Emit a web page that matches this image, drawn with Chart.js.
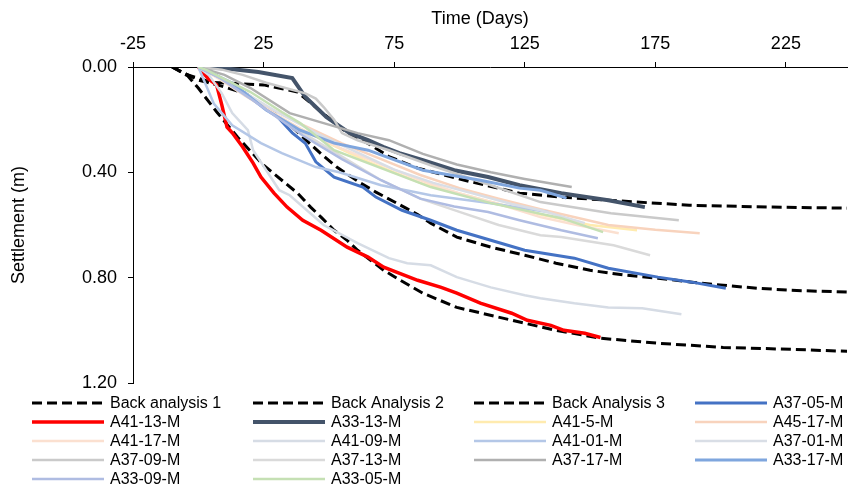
<!DOCTYPE html>
<html>
<head>
<meta charset="utf-8">
<script src="https://cdn.jsdelivr.net/npm/chart.js@4.4.1/dist/chart.umd.min.js"></script>
<style>
  html, body { margin: 0; padding: 0; background: #fff; }
</style>
</head>
<body>
<canvas id="settlementChart" width="848" height="488"></canvas>
<script>
// Axis ticks
const xTicks = [-25, 25, 75, 125, 175, 225];
const yTicks = [0, 0.4, 0.8, 1.2];

// Back analysis curves (days, settlement m)
const ba1Days = [-10, -4, 5, 15, 25, 38, 47, 57, 65, 73, 84, 104, 123, 140, 157, 188, 219, 249];
const ba1Settle = [0, 0.03, 0.058, 0.063, 0.068, 0.095, 0.17, 0.25, 0.29, 0.34, 0.384, 0.435, 0.479, 0.495, 0.506, 0.525, 0.532, 0.536];
const ba2Days = [-10, -4, 0, 8, 18, 29, 36, 41, 47, 53, 62, 68, 76, 84, 89, 99, 112, 125, 137, 150, 163, 176, 189, 201, 214, 227, 249];
const ba2Settle = [0, 0.03, 0.05, 0.07, 0.1, 0.175, 0.228, 0.275, 0.33, 0.38, 0.44, 0.475, 0.517, 0.56, 0.593, 0.646, 0.684, 0.715, 0.745, 0.772, 0.79, 0.802, 0.817, 0.829, 0.84, 0.848, 0.855];
const ba3Days = [-10, -4, 0, 7, 15, 25, 38, 43, 47, 52, 57, 61, 66, 71, 76, 86, 99, 125, 137, 154, 176, 201, 227, 249];
const ba3Settle = [0, 0.034, 0.08, 0.17, 0.266, 0.373, 0.479, 0.532, 0.57, 0.62, 0.658, 0.696, 0.734, 0.772, 0.802, 0.859, 0.913, 0.973, 1.0, 1.03, 1.049, 1.065, 1.072, 1.08];

// Measured plates
const a3705Days = [0, 5, 12, 18, 23, 29, 36, 41, 45, 52, 63, 68, 78, 89, 99, 112, 125, 144, 157, 176, 189, 202];
const a3705Settle = [0, 0.02, 0.065, 0.1, 0.137, 0.175, 0.25, 0.29, 0.36, 0.418, 0.456, 0.494, 0.544, 0.582, 0.62, 0.658, 0.696, 0.726, 0.764, 0.798, 0.817, 0.84];
const a4113Days = [0, 4, 7, 9, 11, 13, 17, 21, 24, 29, 34, 40, 47, 57, 65, 71, 84, 93, 99, 108, 120, 126, 135, 140, 148, 154];
const a4113Settle = [0, 0.046, 0.068, 0.144, 0.228, 0.25, 0.304, 0.365, 0.418, 0.479, 0.532, 0.582, 0.62, 0.684, 0.722, 0.76, 0.81, 0.837, 0.859, 0.897, 0.935, 0.962, 0.981, 1.0, 1.011, 1.027];
const a3313Days = [0, 9, 23, 36, 41, 49, 58, 65, 71, 77, 86, 98, 111, 123, 139, 144, 157, 171];
const a3313Settle = [0, 0.004, 0.019, 0.042, 0.114, 0.19, 0.251, 0.278, 0.304, 0.327, 0.354, 0.392, 0.418, 0.449, 0.479, 0.487, 0.506, 0.532];
const a4105Days = [0, 6, 13, 25, 35, 50, 65, 85, 100, 115, 131, 150, 168];
const a4105Settle = [0, 0.03, 0.076, 0.152, 0.213, 0.29, 0.36, 0.44, 0.48, 0.52, 0.56, 0.6, 0.62];
const a4517Days = [0, 8, 18, 28, 40, 55, 70, 85, 100, 115, 131, 157, 175, 192];
const a4517Settle = [0, 0.04, 0.1, 0.16, 0.22, 0.29, 0.35, 0.41, 0.46, 0.5, 0.54, 0.6, 0.618, 0.631];
const a4117Days = [0, 8, 18, 28, 40, 55, 70, 85, 100, 115, 131, 145, 161];
const a4117Settle = [0, 0.045, 0.11, 0.17, 0.24, 0.31, 0.37, 0.43, 0.48, 0.52, 0.57, 0.6, 0.631];
const a4109Days = [0, 4, 9, 13, 19, 21, 31, 35, 48, 61, 73, 80, 89, 99, 112, 125, 131, 144, 157, 170, 185];
const a4109Settle = [0, 0.03, 0.1, 0.175, 0.24, 0.316, 0.468, 0.487, 0.6, 0.669, 0.726, 0.745, 0.753, 0.798, 0.837, 0.867, 0.878, 0.897, 0.913, 0.916, 0.939];
const a4101Days = [0, 3, 6, 13, 24, 32, 45, 54, 70, 89, 112, 134];
const a4101Settle = [0, 0.07, 0.14, 0.221, 0.289, 0.327, 0.38, 0.4, 0.449, 0.487, 0.517, 0.551];
const a3701Days = [0, 8, 20, 30, 45, 60, 75, 90, 105, 120, 131, 148];
const a3701Settle = [0, 0.04, 0.11, 0.17, 0.25, 0.32, 0.39, 0.44, 0.48, 0.52, 0.544, 0.593];
const a3709Days = [0, 9, 17, 26, 41, 45, 48, 52, 55, 61, 73, 89, 112, 131, 158, 184];
const a3709Settle = [0, 0.01, 0.03, 0.06, 0.1, 0.12, 0.152, 0.2, 0.251, 0.278, 0.316, 0.373, 0.449, 0.513, 0.555, 0.582];
const a3713Days = [0, 8, 20, 30, 40, 55, 70, 85, 100, 115, 131, 139, 159, 173];
const a3713Settle = [0, 0.04, 0.12, 0.19, 0.25, 0.34, 0.43, 0.5, 0.55, 0.6, 0.639, 0.646, 0.677, 0.715];
const a3717Days = [0, 10, 20, 35, 48, 61, 73, 86, 99, 112, 125, 143];
const a3717Settle = [0, 0.03, 0.08, 0.175, 0.213, 0.251, 0.278, 0.33, 0.37, 0.4, 0.425, 0.456];
const a3317Days = [0, 13, 26, 39, 52, 65, 86, 108, 123, 131, 141];
const a3317Settle = [0, 0.061, 0.163, 0.24, 0.289, 0.316, 0.392, 0.43, 0.46, 0.468, 0.498];
const a3309Days = [0, 8, 20, 30, 40, 55, 70, 85, 98, 111, 123, 139, 153];
const a3309Settle = [0, 0.04, 0.12, 0.19, 0.26, 0.35, 0.43, 0.5, 0.53, 0.551, 0.582, 0.62, 0.65];
const a3305Days = [0, 3, 20, 32, 39, 52, 65, 89, 112, 139, 155];
const a3305Settle = [0, 0.011, 0.095, 0.171, 0.213, 0.316, 0.365, 0.456, 0.517, 0.574, 0.627];

const FONT = '"Liberation Sans", Arial, sans-serif';
const DASH = [10, 5];

// label, days, settlement, colour, width, dash
const series = [
  ["Back analysis 1", ba1Days, ba1Settle, "#000000", 3, DASH],
  ["Back Analysis 2", ba2Days, ba2Settle, "#000000", 3, DASH],
  ["Back Analysis 3", ba3Days, ba3Settle, "#000000", 3, DASH],
  ["A37-05-M", a3705Days, a3705Settle, "#4472C4", 3, []],
  ["A41-13-M", a4113Days, a4113Settle, "#FF0000", 3.5, []],
  ["A33-13-M", a3313Days, a3313Settle, "#44546A", 4, []],
  ["A41-5-M", a4105Days, a4105Settle, "#FFEBAF", 2.5, []],
  ["A45-17-M", a4517Days, a4517Settle, "#F8D3BD", 2.5, []],
  ["A41-17-M", a4117Days, a4117Settle, "#FBE0D0", 2.5, []],
  ["A41-09-M", a4109Days, a4109Settle, "#D6DCE5", 2.5, []],
  ["A41-01-M", a4101Days, a4101Settle, "#B4C7E7", 2.5, []],
  ["A37-01-M", a3701Days, a3701Settle, "#D9DEE6", 2.5, []],
  ["A37-09-M", a3709Days, a3709Settle, "#CACACA", 2.5, []],
  ["A37-13-M", a3713Days, a3713Settle, "#DADADA", 2.5, []],
  ["A37-17-M", a3717Days, a3717Settle, "#B0B0B0", 2.5, []],
  ["A33-17-M", a3317Days, a3317Settle, "#7FA6DE", 3, []],
  ["A33-09-M", a3309Days, a3309Settle, "#AFBCE2", 2.5, []],
  ["A33-05-M", a3305Days, a3305Settle, "#C5E0B4", 2.5, []],
];

const datasets = series.map(([label, days, settle, color, width, dash], i) => ({
  label: label,
  data: days.map((d, k) => ({ x: d, y: settle[k] })),
  borderColor: color,
  backgroundColor: color,
  borderWidth: width,
  borderDash: dash,
  pointRadius: 0,
  tension: 0,
  fill: false,
  order: series.length - i, // later series drawn on top
}));

// Legend laid out as a 4-column grid below the plot
const gridLegend = {
  id: "gridLegend",
  afterDraw(chart) {
    const ctx = chart.ctx;
    chart.data.datasets.forEach((ds, i) => {
      const x = 32 + (i % 4) * 221;
      const y = 403 + Math.floor(i / 4) * 19;
      ctx.save();
      ctx.strokeStyle = ds.borderColor;
      ctx.lineWidth = ds.borderWidth;
      ctx.setLineDash(ds.borderDash);
      ctx.beginPath();
      ctx.moveTo(x, y);
      ctx.lineTo(x + 72, y);
      ctx.stroke();
      ctx.fillStyle = "#000";
      ctx.font = "16px " + FONT;
      ctx.textBaseline = "middle";
      ctx.fillText(ds.label, x + 78, y + 1);
      ctx.restore();
    });
  },
};

const ctx = document.getElementById("settlementChart").getContext("2d");
const settlementChart = new Chart(ctx, {
  type: "line",
  data: { datasets: datasets },
  options: {
    responsive: false,
    animation: false,
    layout: { padding: { left: 0, right: 1, top: 0, bottom: 105 } },
    plugins: {
      legend: { display: false },
      tooltip: { enabled: false },
    },
    scales: {
      x: {
        type: "linear",
        position: "top",
        min: -25,
        max: 248.4,
        afterBuildTicks: (s) => { s.ticks = xTicks.map((v) => ({ value: v })); },
        afterFit: (s) => { s.height = 67; },
        grid: { drawOnChartArea: false, tickLength: 5, tickColor: "#000" },
        border: { color: "#000", width: 1 },
        ticks: { color: "#000", padding: 7, maxRotation: 0, font: { size: 18, family: FONT }, callback: (v) => String(v) },
        // trailing spaces nudge the centred title a little left, as in the original
        title: { display: true, text: "Time (Days)    ", color: "#000", font: { size: 18, family: FONT }, padding: { top: 8, bottom: 0 } },
      },
      y: {
        type: "linear",
        reverse: true,
        min: 0,
        max: 1.2,
        afterBuildTicks: (s) => { s.ticks = yTicks.map((v) => ({ value: v })); },
        afterFit: (s) => { s.width = 133; },
        grid: { drawOnChartArea: false, tickLength: 5, tickColor: "#000" },
        border: { color: "#000", width: 1 },
        ticks: { color: "#000", padding: 11, font: { size: 18, family: FONT }, callback: (v) => Number(v).toFixed(2) },
        title: { display: true, text: "Settlement (m)", color: "#000", font: { size: 18, family: FONT }, padding: { top: 8, bottom: 0 } },
      },
    },
  },
  plugins: [gridLegend],
});
</script>
</body>
</html>
